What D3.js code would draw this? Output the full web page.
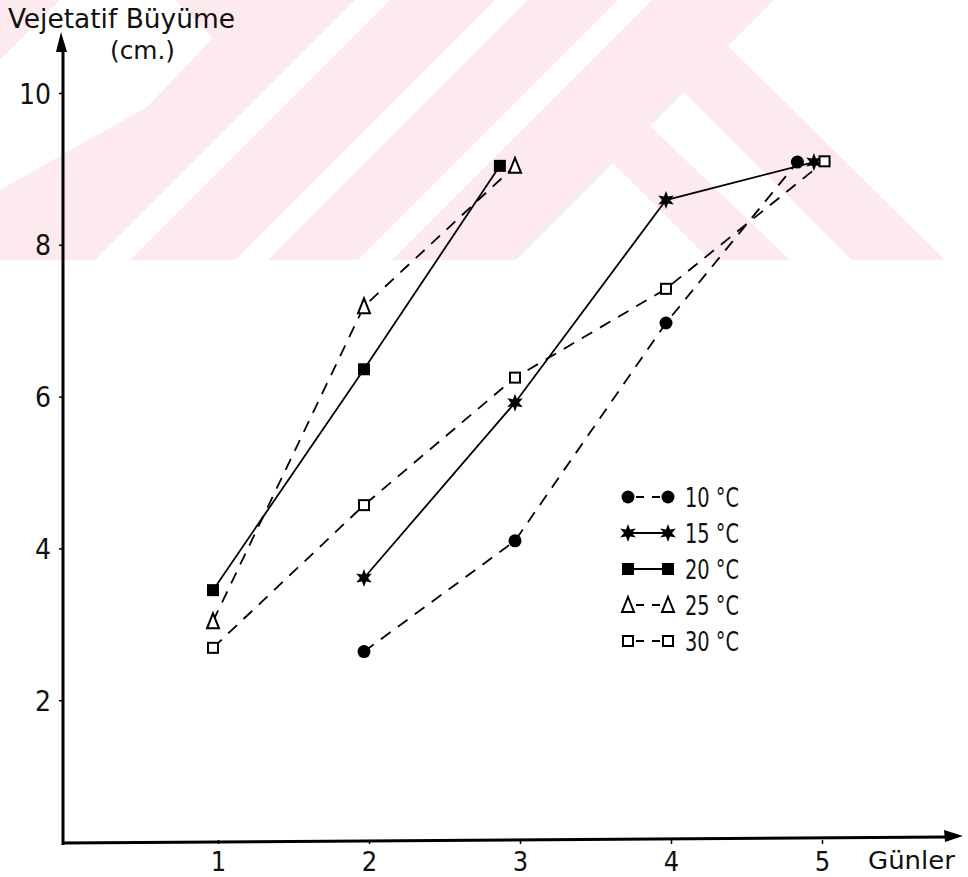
<!DOCTYPE html>
<html>
<head>
<meta charset="utf-8">
<script src="https://cdn.jsdelivr.net/npm/d3@7"></script>
<style>
  body { margin: 0; background: #fff; }
  text { font-family: 'Liberation Sans Narrow', 'DejaVu Sans Condensed', 'DejaVu Sans', sans-serif; fill: #111; }
</style>
</head>
<body>
<script>
// values (day, cm)
var seriesNames = ["10 °C", "15 °C", "20 °C", "25 °C", "30 °C"];

var days10 = [2, 3, 4, 4.87];
var vals10 = [2.64, 4.10, 6.97, 9.09];

var days15 = [2, 3, 4, 4.98];
var vals15 = [3.61, 5.92, 8.59, 9.09];

var days20 = [1, 2, 2.9];
var vals20 = [3.45, 6.36, 9.04];

var days25 = [1, 2, 3];
var vals25 = [3.04, 7.19, 9.04];

var days30 = [1, 2, 3, 4, 5.05];
var vals30 = [2.69, 4.57, 6.25, 7.42, 9.10];

var xTicks = [1, 2, 3, 4, 5];
var yTicks = [2, 4, 6, 8, 10];

var width = 968, height = 877;

var svg = d3.select("body").append("svg")
  .attr("width", width)
  .attr("height", height);

// pale pink watermark behind the top of the scan
var wm = svg.append("g").attr("class", "watermark");
wm.append("rect").attr("x", 0).attr("y", 0).attr("width", width).attr("height", 260)
  .attr("fill", "#fdeaee");
var whiteShapes = [
  [[60,0],[175,0],[213,38],[147,107],[0,190],[0,60]],
  [[355,0],[390,0],[130,260],[95,260]],
  [[495,0],[528,0],[268,260],[235,260]],
  [[618,0],[652,0],[392,260],[358,260]],
  [[774,0],[968,0],[968,260],[945,260],[728,46]],
  [[684,92],[852,260],[790,260],[650,126]],
  [[613,163],[710,260],[516,260]]
];
wm.selectAll("polygon").data(whiteShapes).enter().append("polygon")
  .attr("points", function(d){ return d.map(function(p){ return p.join(","); }).join(" "); })
  .attr("fill", "#fff");

var x = d3.scaleLinear().domain([1, 5]).range([213, 817]);
var y = d3.scaleLinear().domain([0, 10]).range([852, 93]);

var axisX = 63, axisY = 843;

// axes
svg.append("line")
  .attr("x1", axisX).attr("y1", axisY + 2).attr("x2", axisX).attr("y2", 48)
  .attr("stroke", "#000").attr("stroke-width", 3);
svg.append("path")
  .attr("d", "M" + (axisX - 2) + ",32 L" + (axisX + 4) + ",52 L" + (axisX - 7) + ",52 Z")
  .attr("fill", "#000");

svg.append("line")
  .attr("x1", axisX - 1).attr("y1", axisY).attr("x2", 946).attr("y2", axisY - 6)
  .attr("stroke", "#000").attr("stroke-width", 3);
svg.append("path")
  .attr("d", "M963,836 L944,830 L945,842 Z")
  .attr("fill", "#000");

var gy = svg.append("g")
  .attr("transform", "translate(" + axisX + ",0)")
  .call(d3.axisLeft(y).tickValues(yTicks).tickSize(4).tickPadding(8));
gy.select(".domain").remove();
gy.selectAll("line").attr("stroke", "#000").attr("stroke-width", 1.5);
gy.selectAll("text")
  .style("font-size", "28px")
  .attr("dy", "0.36em")
  .attr("fill", "#111");

var gx = svg.append("g")
  .attr("transform", "translate(0," + (axisY - 3) + ")")
  .call(d3.axisBottom(x).tickValues(xTicks).tickFormat(d3.format("d")).tickSize(4).tickPadding(4));
gx.select(".domain").remove();
gx.selectAll("line").attr("stroke", "#000").attr("stroke-width", 1.5).attr("transform", "translate(5,0)");
gx.selectAll("text")
  .style("font-size", "27px")
  .attr("dx", 5)
  .attr("dy", "0.84em")
  .attr("fill", "#111");

// axis titles
svg.append("text")
  .attr("x", 8).attr("y", 28)
  .attr("textLength", 227).attr("lengthAdjust", "spacingAndGlyphs")
  .style("font-size", "26px")
  .text("Vejetatif Büyüme");
svg.append("text")
  .attr("x", 110).attr("y", 59)
  .attr("textLength", 65).attr("lengthAdjust", "spacingAndGlyphs")
  .style("font-size", "24px")
  .text("(cm.)");
svg.append("text")
  .attr("x", 868).attr("y", 869)
  .attr("textLength", 87).attr("lengthAdjust", "spacingAndGlyphs")
  .style("font-size", "25px")
  .text("Günler");

// symbols
function starPath(R) {
  var pts = d3.range(12).map(function(i){
    return [i * Math.PI / 6, i % 2 === 0 ? R : R * 0.45];
  });
  return d3.lineRadial().curve(d3.curveLinearClosed)(pts);
}
var symbols = {
  circle: function(g){ g.append("circle").attr("r", 6.5).attr("fill", "#000"); },
  star: function(g){ g.append("path").attr("d", starPath(9)).attr("fill", "#000"); },
  square: function(g){ g.append("rect").attr("x", -6).attr("y", -6).attr("width", 12).attr("height", 12).attr("fill", "#000"); },
  triangle: function(g){ g.append("path").attr("d", "M0,-8 L6,7 L-6,7 Z").attr("fill", "#fff").attr("stroke", "#000").attr("stroke-width", 2); },
  opensquare: function(g){ g.append("rect").attr("x", -5).attr("y", -5).attr("width", 10).attr("height", 10).attr("fill", "#fff").attr("stroke", "#000").attr("stroke-width", 2); }
};

var series = [
  {name: seriesNames[0], days: days10, vals: vals10, sym: "circle", dash: "12,9"},
  {name: seriesNames[1], days: days15, vals: vals15, sym: "star", dash: null},
  {name: seriesNames[2], days: days20, vals: vals20, sym: "square", dash: null},
  {name: seriesNames[3], days: days25, vals: vals25, sym: "triangle", dash: "12,9"},
  {name: seriesNames[4], days: days30, vals: vals30, sym: "opensquare", dash: "12,9"}
];

var line = d3.line()
  .x(function(d){ return x(d[0]); })
  .y(function(d){ return y(d[1]); });

series.forEach(function(s){
  var pts = d3.zip(s.days, s.vals);
  svg.append("path")
    .datum(pts)
    .attr("d", line)
    .attr("fill", "none")
    .attr("stroke", "#000")
    .attr("stroke-width", 1.8)
    .attr("stroke-dasharray", s.dash);
});
series.forEach(function(s){
  var pts = d3.zip(s.days, s.vals);
  svg.selectAll(null).data(pts).enter().append("g")
    .attr("transform", function(d){ return "translate(" + x(d[0]) + "," + y(d[1]) + ")"; })
    .each(function(){ symbols[s.sym](d3.select(this)); });
});

// legend
var legend = svg.append("g").attr("transform", "translate(628,497)");
var row = legend.selectAll("g").data(series).enter().append("g")
  .attr("transform", function(d, i){ return "translate(0," + (i * 36) + ")"; });
row.append("line")
  .attr("x1", 2).attr("x2", 38).attr("y1", 0).attr("y2", 0)
  .attr("stroke", "#000").attr("stroke-width", 1.8)
  .attr("stroke-dasharray", function(d){ return d.dash ? "8,8" : null; })
  .attr("stroke-dashoffset", -6);
row.append("g").each(function(d){ symbols[d.sym](d3.select(this)); });
row.append("g").attr("transform", "translate(40,0)").each(function(d){ symbols[d.sym](d3.select(this)); });
row.append("text")
  .attr("x", 57).attr("y", 10)
  .attr("textLength", 54).attr("lengthAdjust", "spacingAndGlyphs")
  .style("font-size", "27px")
  .text(function(d){ return d.name; });
</script>
</body>
</html>
